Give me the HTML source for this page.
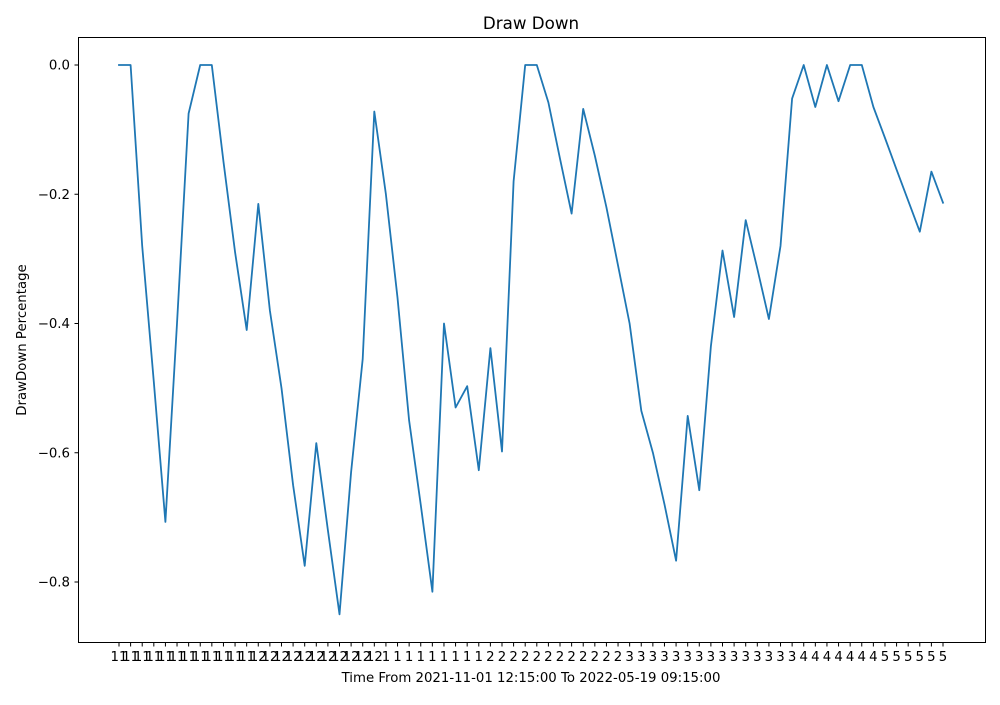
<!DOCTYPE html>
<html><head><meta charset="utf-8"><style>
body{margin:0;background:#fff;}
svg text{font-family:"DejaVu Sans","Liberation Sans",sans-serif;fill:#000;}
</style></head><body>
<svg id="chart" width="1000" height="700">
<rect x="0" y="0" width="1000" height="700" fill="#fff"/>
<text x="531" y="29" font-size="16.7" text-anchor="middle">Draw Down</text>
<g id="yaxis"></g><g id="xaxis"></g>
<path id="line" fill="none" stroke="#1f77b4" stroke-width="1.8" stroke-linejoin="round" stroke-linecap="square"/>
<rect x="78.5" y="37.5" width="907" height="605" fill="none" stroke="#000" stroke-width="1"/>
<text x="531" y="682" font-size="13.3" text-anchor="middle">Time From 2021-11-01 12:15:00 To 2022-05-19 09:15:00</text>
<text transform="translate(26,340) rotate(-90)" font-size="13.3" text-anchor="middle">DrawDown Percentage</text>
</svg>
<script>
const monthLabels=["11","11","11","11","11","11","11","11","11","11","11","11","12","12","12","12","12","12","12","12","12","12","12","1","1","1","1","1","1","1","1","1","2","2","2","2","2","2","2","2","2","2","2","2","3","3","3","3","3","3","3","3","3","3","3","3","3","3","3","4","4","4","4","4","4","4","5","5","5","5","5","5"];
const drawdown=[0,0,-0.28,-0.49,-0.707,-0.4,-0.075,0,0,-0.15,-0.29,-0.41,-0.215,-0.38,-0.5,-0.65,-0.775,-0.585,-0.72,-0.85,-0.63,-0.455,-0.072,-0.2,-0.36,-0.55,-0.68,-0.815,-0.4,-0.53,-0.497,-0.627,-0.438,-0.598,-0.18,0,0,-0.058,-0.145,-0.23,-0.068,-0.14,-0.22,-0.31,-0.4,-0.535,-0.6,-0.68,-0.767,-0.543,-0.658,-0.435,-0.287,-0.39,-0.24,-0.315,-0.393,-0.28,-0.052,0,-0.065,0,-0.056,0,0,-0.065,-0.113,-0.162,-0.21,-0.258,-0.165,-0.213];
const yTicks=[0.0,-0.2,-0.4,-0.6,-0.8];
const NS="http://www.w3.org/2000/svg";
const n=drawdown.length;
function xs(i){return 119+i*(943-119)/(n-1);}
function ys(v){return 65+(-v)*(582-65)/0.8;}
const ya=document.getElementById('yaxis'),xa=document.getElementById('xaxis');
yTicks.forEach(t=>{
  const y=ys(t);
  const l=document.createElementNS(NS,'line');
  l.setAttribute('x1',74.5);l.setAttribute('x2',78.5);l.setAttribute('y1',y);l.setAttribute('y2',y);l.setAttribute('stroke','#000');
  
  
  ya.appendChild(l);
  const tx=document.createElementNS(NS,'text');
  tx.setAttribute('x',70);tx.setAttribute('y',y+4.5);tx.setAttribute('font-size','13.3');tx.setAttribute('text-anchor','end');
  tx.textContent=t.toFixed(1).replace('-','\u2212');
  
  
  ya.appendChild(tx);
});
monthLabels.forEach((m,i)=>{
  const x=xs(i);
  const l=document.createElementNS(NS,'line');
  l.setAttribute('x1',x);l.setAttribute('x2',x);l.setAttribute('y1',642.5);l.setAttribute('y2',646.5);l.setAttribute('stroke','#000');
  
  
  xa.appendChild(l);
  const tx=document.createElementNS(NS,'text');
  tx.setAttribute('x',x);tx.setAttribute('y',661);tx.setAttribute('font-size','13.3');tx.setAttribute('text-anchor','middle');
  tx.textContent=m;
  
  
  xa.appendChild(tx);
});
document.getElementById('line').setAttribute('d',drawdown.map((v,i)=>(i?'L':'M')+xs(i).toFixed(1)+','+ys(v).toFixed(1)).join(''));
</script>
</body></html>
